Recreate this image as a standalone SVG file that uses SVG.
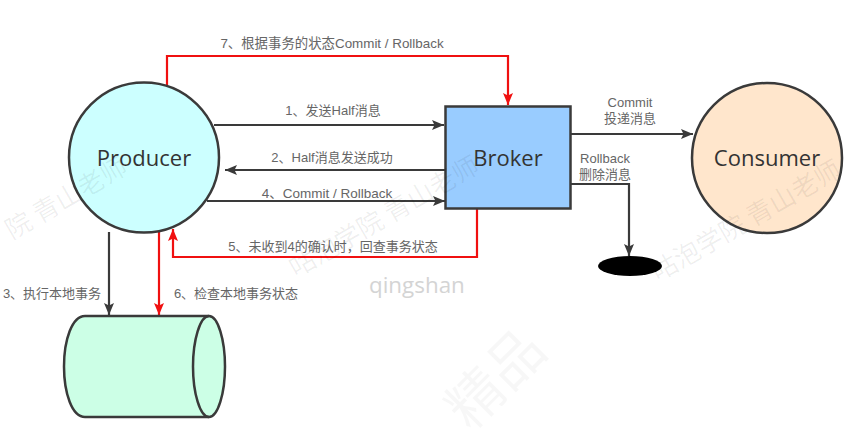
<svg xmlns="http://www.w3.org/2000/svg" width="850" height="443" viewBox="0 0 850 443">
<style>
.n{stroke:#3a3a3a;stroke-width:2.5}
.l{fill:none;stroke:#3a3a3a;stroke-width:2.2}
.r{fill:none;stroke:#f01010;stroke-width:2.2}
.t{font-family:"Liberation Sans","Noto Sans CJK SC",sans-serif;font-size:13px;fill:#666;text-anchor:middle}
.b{font-family:"Open Sans","Noto Sans",sans-serif;font-size:22px;fill:#333;text-anchor:middle}
.w{font-family:"Noto Sans CJK SC",sans-serif;font-size:26px;fill:#000;fill-opacity:.065}
</style>
<defs>
<marker id="ab" markerUnits="userSpaceOnUse" markerWidth="14" markerHeight="12" refX="12" refY="5" orient="auto" viewBox="0 0 14 10"><path d="M0 0L12 5L0 10L2.5 5Z" fill="#3a3a3a"/></marker>
<marker id="ar" markerUnits="userSpaceOnUse" markerWidth="14" markerHeight="12" refX="12" refY="5" orient="auto" viewBox="0 0 14 10"><path d="M0 0L12 5L0 10L2.5 5Z" fill="#f01010"/></marker>
</defs>
<rect width="850" height="443" fill="#fff"/>
<g id="connectors">
<path class="r" d="M167 85V56H508V105" marker-end="url(#ar)"/>
<path class="l" d="M214 125H444" marker-end="url(#ab)"/>
<path class="l" d="M445 170H225" marker-end="url(#ab)"/>
<path class="l" d="M207 201H445" marker-end="url(#ab)"/>
<path class="r" d="M477 208V257H173V229" marker-end="url(#ar)"/>
<path class="l" d="M109 232V315" marker-end="url(#ab)"/>
<path class="r" d="M159 231V315" marker-end="url(#ar)"/>
<path class="l" d="M571 134H693" marker-end="url(#ab)"/>
<path class="l" d="M571 184H629V256" marker-end="url(#ab)"/>
</g>
<g id="producer"><circle class="n" cx="144" cy="157.500" r="75" fill="#ccffff"/><text class="b" x="144" y="166">Producer</text></g>
<g id="broker"><rect class="n" x="445.500" y="106.500" width="125" height="102" fill="#99ccff"/><text class="b" x="508" y="166">Broker</text></g>
<g id="consumer"><circle class="n" cx="767" cy="158" r="75" fill="#ffe6cc"/><text class="b" x="767" y="166">Consumer</text></g>
<g id="sink"><ellipse cx="630" cy="266" rx="32" ry="10" fill="#000"/></g>
<g id="database"><path class="n" d="M209 316H85C72 316 64 340 64 366.500C64 393 72 417 85 417H209C218 417 225 393 225 366.500C225 340 218 316 209 316Z" fill="#ccffe6"/><path class="n" d="M209 316C200 316 193 340 193 366.500C193 393 200 417 209 417" fill="none"/></g>
<g id="labels">
<text class="t" x="332" y="48" style="font-size:13.400px">7、根据事务的状态Commit / Rollback</text>
<text class="t" x="333" y="115">1、发送Half消息</text>
<text class="t" x="332" y="162">2、Half消息发送成功</text>
<text class="t" x="327" y="198" style="font-size:13.500px">4、Commit / Rollback</text>
<text class="t" x="333" y="251">5、未收到4的确认时，回查事务状态</text>
<text class="t" x="52" y="298">3、执行本地事务</text>
<text class="t" x="236" y="298">6、检查本地事务状态</text>
<text class="t" x="630" y="107">Commit</text>
<text class="t" x="630" y="123">投递消息</text>
<text class="t" x="605" y="163">Rollback</text>
<text class="t" x="605" y="179">删除消息</text>
</g>
<g id="watermark">
<text class="w" transform="rotate(-30 12 240)" x="12" y="240">院 青山老师</text>
<text class="w" transform="rotate(-30 296 278)" x="296" y="278">咕泡学院 青山老师</text>
<text class="w" transform="rotate(-30 658 282)" x="658" y="282">咕泡学院 青山老师</text>
<text transform="rotate(-45 470 432)" x="470" y="432" font-family="Noto Sans CJK SC,sans-serif" font-size="56" fill="#000" fill-opacity=".03">精品</text>
<text x="369" y="293" font-family="Open Sans,sans-serif" font-size="22.400" fill="#d4d4d4">qingshan</text>
</g>
</svg>
